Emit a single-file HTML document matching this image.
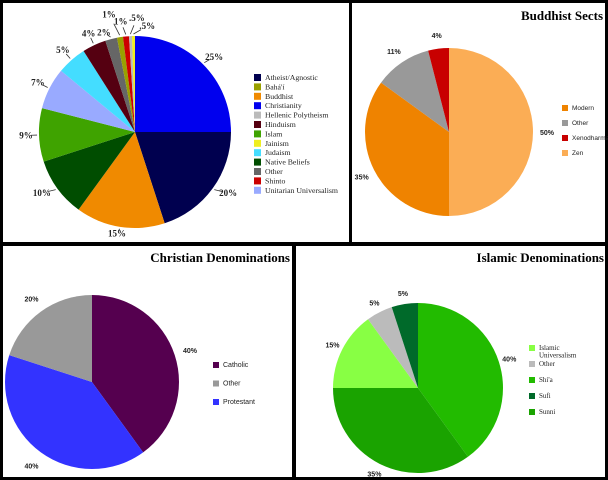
<!DOCTYPE html>
<html><head><meta charset="utf-8"><style>
body{margin:0;width:608px;height:480px;background:#000;overflow:hidden}
svg{display:block}
</style></head><body>
<svg id="s" width="608" height="480" xmlns="http://www.w3.org/2000/svg">
<rect x="0" y="0" width="608" height="480" fill="#000"/>
<rect x="3" y="3" width="346" height="239" fill="#fff"/>
<rect x="352" y="3" width="253" height="239" fill="#fff"/>
<rect x="3" y="246" width="289" height="231" fill="#fff"/>
<rect x="296" y="246" width="309" height="231" fill="#fff"/>
<text x="603" y="20" text-anchor="end" font-family="Liberation Serif, serif" font-weight="bold" font-size="13">Buddhist Sects</text>
<text x="290" y="262" text-anchor="end" font-family="Liberation Serif, serif" font-weight="bold" font-size="13">Christian Denominations</text>
<text x="604" y="262" text-anchor="end" font-family="Liberation Serif, serif" font-weight="bold" font-size="13">Islamic Denominations</text>
</svg>
<script>
const relCats=["Christianity","Atheist/Agnostic","Buddhist","Native Beliefs","Islam","Unitarian Universalism","Judaism","Hinduism","Other","Bahá'í","Shinto","Hellenic Polytheism","Jainism"];
const relVals=[25,20,15,10,9,7,5,4,2,1,1,0.5,0.5];
const relLabels=["25%","20%","15%","10%","9%","7%","5%","4%","2%","1%","1%",".5%",".5%"];
const relLegend=["Atheist/Agnostic","Bahá'í","Buddhist","Christianity","Hellenic Polytheism","Hinduism","Islam","Jainism","Judaism","Native Beliefs","Other","Shinto","Unitarian Universalism"];
const budCats=["Zen","Modern","Other","Xenodharma"];
const budVals=[50,35,11,4];
const budLegend=["Modern","Other","Xenodharma","Zen"];
const chrCats=["Catholic","Protestant","Other"];
const chrVals=[40,40,20];
const chrLegend=["Catholic","Other","Protestant"];
const islCats=["Shi'a","Sunni","Islamic Universalism","Other","Sufi"];
const islVals=[40,35,15,5,5];
const islLegend=["Islamic Universalism","Other","Shi'a","Sufi","Sunni"];

const colors={"Christianity":"#0000ee","Atheist/Agnostic":"#00004f","Buddhist":"#f08a00","Native Beliefs":"#004d00","Islam":"#3fa300","Unitarian Universalism":"#99aaff","Judaism":"#44ddff","Hinduism":"#550011","Other":"#666666","Bahá'í":"#99a000","Shinto":"#cc0000","Hellenic Polytheism":"#bbbbbb","Jainism":"#eeee22"};
const budColors={"Zen":"#fbad55","Modern":"#ef8300","Other":"#999999","Xenodharma":"#c80000"};
const chrColors={"Catholic":"#55004f","Protestant":"#3333ff","Other":"#999999"};
const islColors={"Shi'a":"#22bb00","Sunni":"#1aa300","Islamic Universalism":"#88ff44","Other":"#bbbbbb","Sufi":"#006a2a"};
// label nudges (layout only) for crowded small slices
const relNudge=[[2,2],[5,-3],[-1,-6],[-5,-3],[0,0],[0,0],[0,0],[0,0],[-4,6],[-9,-10],[-4,-2],[7,-5],[14,3]];

const svg=document.getElementById('s');
const NS="http://www.w3.org/2000/svg";
function mk(t,a){const e=document.createElementNS(NS,t);for(const k in a)e.setAttribute(k,a[k]);svg.appendChild(e);return e;}
function pie(name,cx,cy,r,cats,vals,cmap,labels,labOff,sans,leader,nudge){
  const tot=vals.reduce((a,b)=>a+b,0);let a0=0;
  cats.forEach((c,i)=>{
    const a1=a0+vals[i]/tot*2*Math.PI;
    const x0=cx+r*Math.sin(a0),y0=cy-r*Math.cos(a0),x1=cx+r*Math.sin(a1),y1=cy-r*Math.cos(a1);
    const p=mk('path',{d:`M${cx},${cy}L${x0},${y0}A${r},${r} 0 ${a1-a0>Math.PI?1:0} 1 ${x1},${y1}Z`,fill:cmap[c]});
    
    
    const am=(a0+a1)/2;
    const n=nudge?nudge[i]:[0,0];
    const lx=cx+(r+labOff)*Math.sin(am)+n[0],ly=cy-(r+labOff)*Math.cos(am)+3+n[1];
    if(leader){const l=mk('line',{x1:cx+(r+2)*Math.sin(am),y1:cy-(r+2)*Math.cos(am),x2:lx-(lx-(cx+(r+2)*Math.sin(am)))*0.45,y2:(ly-3)-((ly-3)-(cy-(r+2)*Math.cos(am)))*0.45,stroke:'#333','stroke-width':0.8});
      
      }
    const t=mk('text',{x:lx,y:ly,'text-anchor':'middle','font-family':sans?'Liberation Sans, sans-serif':'Liberation Serif, serif','font-weight':'bold','font-size':sans?7:9,fill:'#222'});
    t.textContent=labels?labels[i]:Math.round(vals[i]/tot*100)+'%';
    
    
    a0=a1;
  });
}
function legend(name,x,ys,items,cmap,sans,size,sq,wrap){
  items.forEach((c,i)=>{
    const y=ys(i);
    const r=mk('rect',{x:x,y:y,width:sq,height:sq,fill:cmap[c]});
    
    
    const t=mk('text',{x:x+sq+4,y:y+sq-1,'font-family':sans?'Liberation Sans, sans-serif':'Liberation Serif, serif','font-size':size,fill:'#222'});
    if(wrap&&c.indexOf(' ')>0){
      const w=c.split(' ');
      t.textContent=w[0];
      const t2=mk('text',{x:x+sq+4,y:y+sq-1+size+0.5,'font-family':sans?'Liberation Sans, sans-serif':'Liberation Serif, serif','font-size':size,fill:'#222'});
      t2.textContent=w.slice(1).join(' ');
      
      
    } else t.textContent=c;
    
    
  });
}
pie('religion',135,132,96,relCats,relVals,colors,relLabels,13,false,true,relNudge);
legend('religion',254,i=>74+i*9.4,relLegend,colors,false,7.8,7,false);
pie('buddhist',449,132,84,budCats,budVals,budColors,null,14,true,false);
legend('buddhist',562,i=>105+i*15,budLegend,budColors,true,6.5,6,false);
pie('christian',92,382,87,chrCats,chrVals,chrColors,null,16,true,false);
legend('christian',213,i=>362+i*18.5,chrLegend,chrColors,true,7,6,false);
pie('islamic',418,388,85,islCats,islVals,islColors,null,11,true,false);
legend('islamic',529,i=>i===0?345:361+(i-1)*16,islLegend,islColors,false,7,6,true);
</script>
</body></html>
